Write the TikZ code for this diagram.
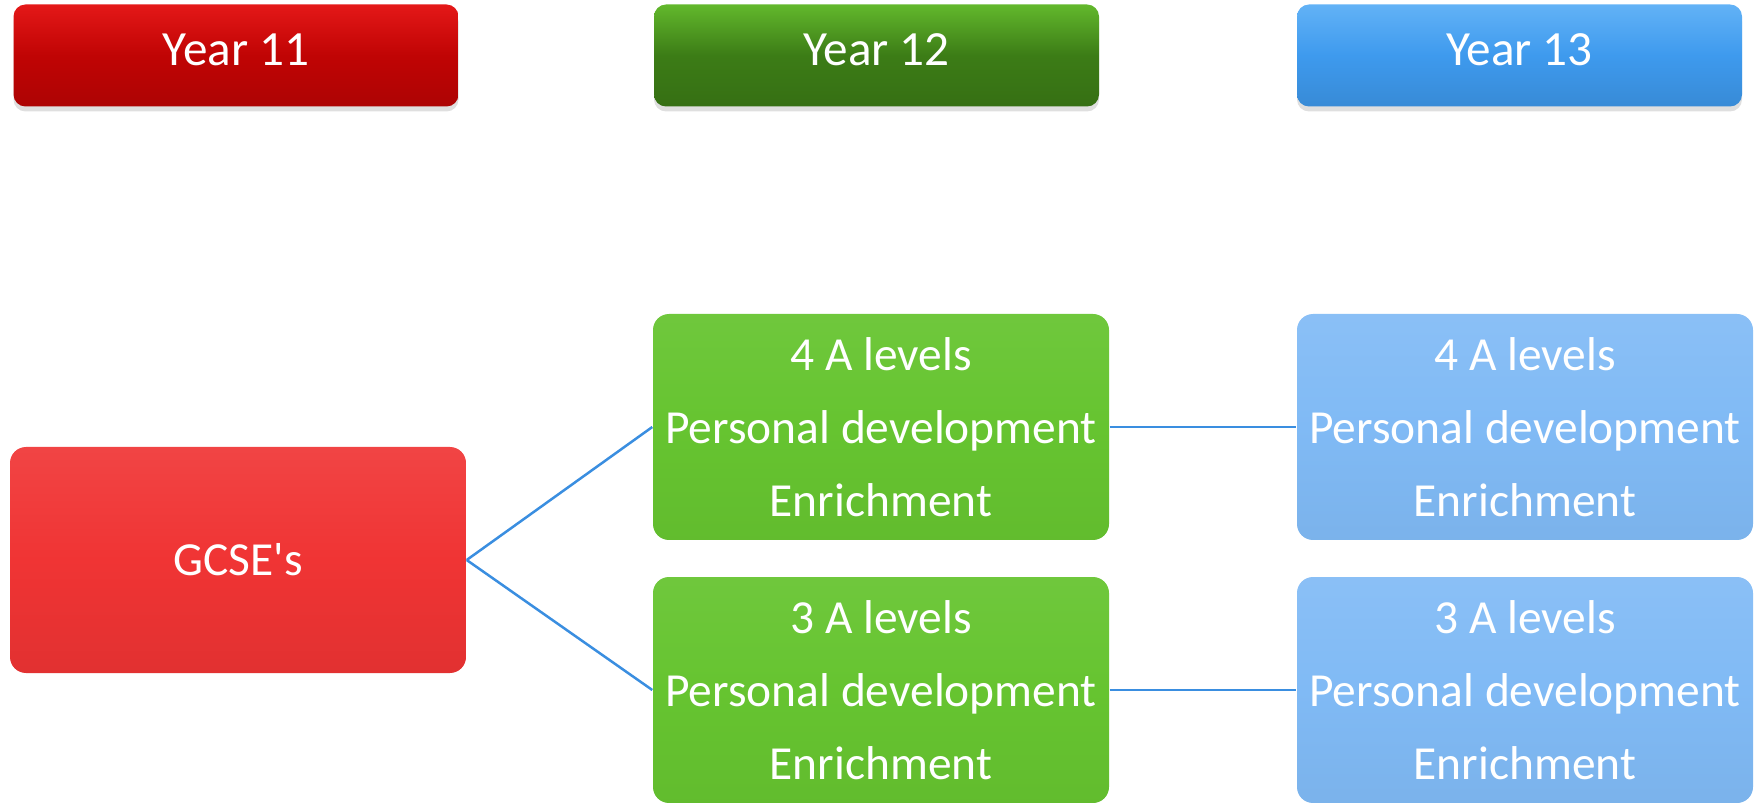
\documentclass[tikz,border=0pt]{standalone}
\usepackage{fontspec}
\setmainfont{Carlito}
\usetikzlibrary{shadows}
\definecolor{redtop}{HTML}{E41818}
\definecolor{redmid}{HTML}{C00404}
\definecolor{greentop}{HTML}{62B82C}
\definecolor{greenmid}{HTML}{3C7C16}
\definecolor{bluetop}{HTML}{62B2F6}
\definecolor{bluemid}{HTML}{3E9AEE}
\definecolor{gcsered}{HTML}{F03434}
\definecolor{levelgreen}{HTML}{66C430}
\definecolor{levelblue}{HTML}{80BAF5}
\definecolor{linkblue}{HTML}{3A8EE0}
\begin{document}
\begin{tikzpicture}[
    yearbox/.style={rounded corners=0.12cm, minimum width=4.45cm, minimum height=1.02cm,
        inner sep=0pt, text depth=0.11cm, text=white, font=\fontsize{14}{16}\selectfont,
        drop shadow={opacity=0.25, shadow xshift=0pt, shadow yshift=-0.05cm}},
    stagebox/.style={rounded corners=0.16cm, minimum width=4.56cm, minimum height=2.26cm,
        inner sep=0pt, align=center, text=white, font=\fontsize{13.5}{20.8}\selectfont},
    link/.style={draw=linkblue, line width=0.025cm}]
        \useasboundingbox (0,0) rectangle (17.6,8.02);

        % year headers
        \node[yearbox, top color=redtop, bottom color=redmid!90!black, middle color=redmid] (1) at (2.36,7.465) {Year 11};
        \node[yearbox, top color=greentop, bottom color=greenmid!90!black, middle color=greenmid] (2) at (8.765,7.465) {Year 12};
        \node[yearbox, top color=bluetop, bottom color=bluemid!90!black, middle color=bluemid] (3) at (15.195,7.465) {Year 13};

        % stages
        \node[stagebox, top color=gcsered!92!white, bottom color=gcsered!94!black, middle color=gcsered] (4) at (2.38,2.42) {GCSE\textquotesingle s};
        \node[stagebox, top color=levelgreen!94!white, bottom color=levelgreen!96!black, middle color=levelgreen] (5) at (8.81,3.75) {4 A levels\\Personal development\\Enrichment};
        \node[stagebox, top color=levelgreen!94!white, bottom color=levelgreen!96!black, middle color=levelgreen] (6) at (8.81,1.12) {3 A levels\\Personal development\\Enrichment};
        \node[stagebox, top color=levelblue!92!white, bottom color=levelblue!96!black, middle color=levelblue] (7) at (15.25,3.75) {4 A levels\\Personal development\\Enrichment};
        \node[stagebox, top color=levelblue!92!white, bottom color=levelblue!96!black, middle color=levelblue] (8) at (15.25,1.12) {3 A levels\\Personal development\\Enrichment};

        \path[link] (4.east) -- (5.west);
        \path[link] (4.east) -- (6.west);
        \path[link] (5.east) -- (7.west);
        \path[link] (6.east) -- (8.west);
    \end{tikzpicture}
\end{document}
